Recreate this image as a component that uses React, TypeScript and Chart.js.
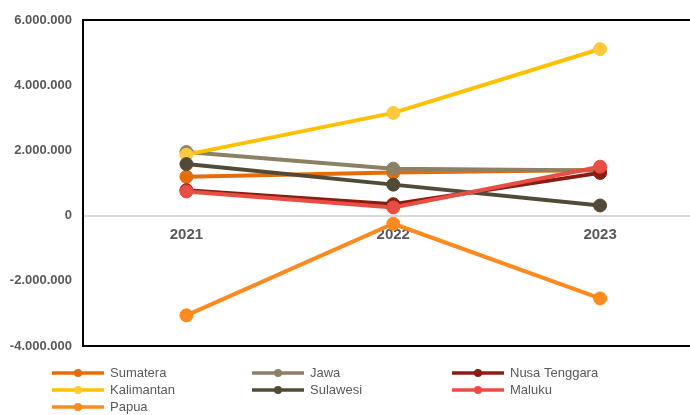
import React, { useEffect, useRef } from 'react';
import { Chart, registerables } from 'chart.js';
Chart.register(...registerables);

const categories = ['2021', '2022', '2023'];
const seriesNames = ['Sumatera', 'Jawa', 'Nusa Tenggara', 'Kalimantan', 'Sulawesi', 'Maluku', 'Papua'];
const sumatera = [1190000, 1320000, 1400000];
const jawa = [1950000, 1440000, 1380000];
const nusaTenggara = [780000, 350000, 1310000];
const kalimantan = [1870000, 3150000, 5110000];
const sulawesi = [1580000, 950000, 310000];
const maluku = [740000, 250000, 1500000];
const papua = [-3060000, -250000, -2540000];
const yMin = -4000000;
const yMax = 6000000;
const yStep = 2000000;

const seriesValues = [sumatera, jawa, nusaTenggara, kalimantan, sulawesi, maluku, papua];
const lineColors = ['#e46c0a', '#8c8165', '#8b1c12', '#ffc000', '#514a37', '#e84e44', '#fd8a1f'];
const pointColors = ['#e46c0a', '#8c8165', '#8b1c12', '#ffc93c', '#514a37', '#e84e44', '#fd8a1f'];

const FONT = '"Liberation Sans", Arial, sans-serif';

const fmt = (v: number) => {
  const s = String(Math.abs(Math.round(v))).replace(/\B(?=(\d{3})+(?!\d))/g, '.');
  return (v < 0 ? '-' : '') + s;
};

const boxPlugin = {
  id: 'boxPlugin',
  beforeDatasetsDraw(chart: any) {
    const { ctx, chartArea } = chart;
    ctx.save();
    ctx.strokeStyle = '#000';
    ctx.lineWidth = 2;
    ctx.strokeRect(chartArea.left, chartArea.top, chartArea.right - chartArea.left, chartArea.bottom - chartArea.top);
    ctx.restore();
  },
};

const legendPlugin = {
  id: 'gridLegend',
  afterDraw(chart: any) {
    const { ctx } = chart;
    ctx.save();
    chart.data.datasets.forEach((ds: any, i: number) => {
      const col = i % 3;
      const row = Math.floor(i / 3);
      const x = 52 + col * 200;
      const y = 373 + row * 17;
      ctx.strokeStyle = ds.borderColor;
      ctx.lineWidth = 3.5;
      ctx.beginPath();
      ctx.moveTo(x, y);
      ctx.lineTo(x + 52, y);
      ctx.stroke();
      ctx.fillStyle = ds.pointBackgroundColor;
      ctx.beginPath();
      ctx.arc(x + 26, y, 4, 0, Math.PI * 2);
      ctx.fill();
      ctx.fillStyle = '#595959';
      ctx.font = '13px ' + FONT;
      ctx.textBaseline = 'middle';
      ctx.textAlign = 'left';
      ctx.fillText(ds.label, x + 58, y + 0.5);
    });
    ctx.restore();
  },
};

export default function App() {
  const ref = useRef<HTMLCanvasElement>(null);
  useEffect(() => {
    if (!ref.current) return;
    const n = seriesNames.length;
    const chart = new Chart(ref.current, {
      type: 'line',
      data: {
        labels: categories,
        datasets: seriesNames.map((name, i) => ({
          label: name,
          data: seriesValues[i],
          borderColor: lineColors[i],
          backgroundColor: pointColors[i],
          pointBackgroundColor: pointColors[i],
          pointBorderColor: pointColors[i],
          borderWidth: 4,
          pointRadius: 6.5,
          pointBorderWidth: 1,
          tension: 0,
          fill: false,
          order: n - 1 - i,
        })),
      },
      options: {
        animation: false,
        responsive: false,
        maintainAspectRatio: false,
        devicePixelRatio: 1,
        layout: { padding: { top: 20, bottom: 69, left: 0, right: 0 } },
        plugins: {
          legend: { display: false },
          tooltip: { enabled: false },
        },
        scales: {
          x: {
            type: 'category',
            offset: true,
            position: { y: 0 } as any,
            grid: {
              display: true,
              drawOnChartArea: false,
              drawTicks: true,
              tickLength: 10,
              tickColor: 'rgba(0,0,0,0)',
            },
            border: { display: true, color: '#d9d9d9', width: 2 },
            ticks: {
              color: '#595959',
              font: { family: FONT, size: 15, weight: 'bold' },
              padding: 0,
            },
          },
          y: {
            min: yMin,
            max: yMax,
            grid: { display: false, drawTicks: false },
            border: { display: false },
            afterFit(scale: any) {
              scale.width = 83;
            },
            ticks: {
              stepSize: yStep,
              color: '#595959',
              padding: 11,
              font: { family: FONT, size: 13, weight: 'bold' },
              callback: (v: any) => fmt(Number(v)),
            },
          },
        },
      },
      plugins: [boxPlugin, legendPlugin],
    });
    return () => chart.destroy();
  }, []);
  return (
    <div style={{ position: 'absolute', left: 0, top: 0, width: 690, height: 415, overflow: 'hidden', background: '#fff' }}>
      <canvas ref={ref} width={711} height={415} style={{ display: 'block', width: 711, height: 415 }} />
    </div>
  );
}
